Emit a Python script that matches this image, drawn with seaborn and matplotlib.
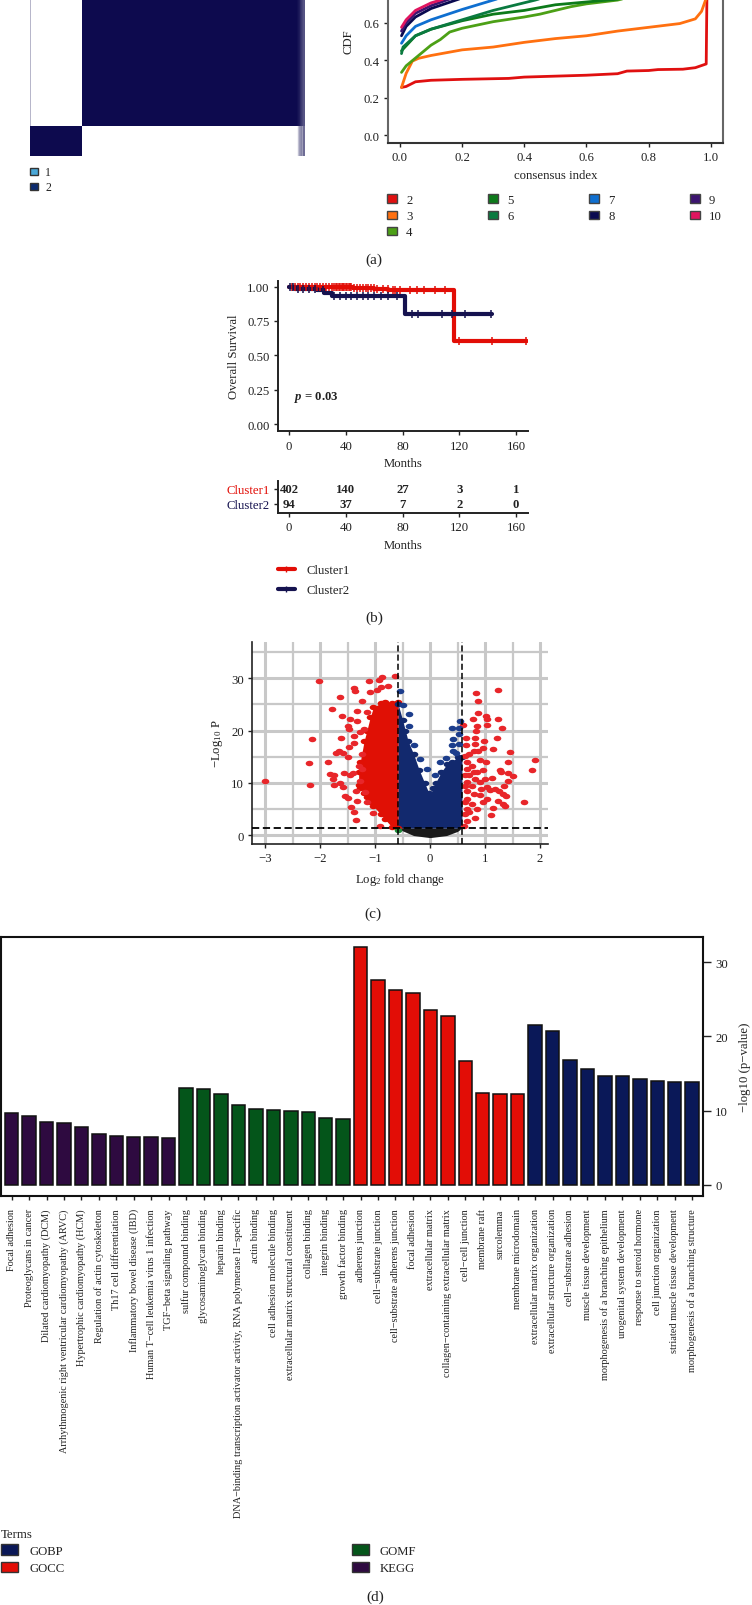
import numpy as np
import pandas as pd
import matplotlib
matplotlib.use("Agg")
import matplotlib.pyplot as plt
from matplotlib.lines import Line2D
from matplotlib.patches import Patch
from matplotlib.path import Path
from matplotlib.transforms import Affine2D
import seaborn as sns

# ---- panel a: consensus matrix
cluster_sizes = [94, 402]
strip_top = [.98, .95, .95, .9, .92, .85, .9, .8, .85, .75, .8, .7, .75, .7]
strip_bottom = [.05, .15, .25, .3, .4, .45, .35, .5, .55, .4, .5, .6, .55, .6]

# ---- panel a: CDF curves, k -> (consensus index, CDF)
cdf_curves = {
    "2": ([.005, .02, .05, .1, .2, .35, .4, .6, .7, .73, .8, .83, .91, .95, .985, .987, .99],
          [.255, .26, .285, .293, .298, .303, .31, .32, .328, .342, .345, .35, .352, .36, .38, .7, 1]),
    "3": ([.005, .02, .04, .06, .1, .2, .3, .4, .5, .6, .7, .8, .9, .95, .97, .985, .99],
          [.255, .33, .395, .41, .425, .455, .47, .495, .515, .53, .555, .575, .595, .62, .66, .73, 1]),
    "4": ([.005, .02, .06, .1, .13, .16, .2, .3, .4, .45, .55, .6, .7, .8, .9, .99],
          [.335, .37, .425, .48, .51, .55, .57, .605, .63, .645, .685, .7, .72, .76, .82, 1]),
    "5": ([.005, .05, .1, .2, .3, .4, .5, .6, .7, .8, .9, .99],
          [.45, .53, .565, .61, .645, .665, .695, .71, .725, .77, .84, 1]),
    "6": ([.005, .01, .05, .1, .2, .3, .435, .6, .8, .99],
          [.435, .47, .53, .565, .615, .665, .72, .8, .9, 1]),
    "7": ([.005, .02, .05, .1, .2, .3, .5, .8, .99],
          [.49, .53, .58, .615, .67, .72, .82, .93, 1]),
    "8": ([.005, .02, .05, .1, .18, .4, .8, .99],
          [.53, .58, .63, .675, .72, .84, .95, 1]),
    "9": ([.005, .02, .05, .1, .15, .4, .8, .99],
          [.555, .6, .65, .69, .72, .86, .96, 1]),
    "10": ([.005, .02, .05, .1, .13, .4, .8, .99],
           [.575, .615, .665, .705, .72, .88, .97, 1]),
}
cdf_colors = ["#e01010", "#ff7010", "#4ca016", "#0d7a1a", "#0a7a40",
              "#0f6fd0", "#0a0a50", "#3c1470", "#e0155f"]

# ---- panel b: survival
surv1_months = [0, 45, 45, 60, 60, 70, 70, 116, 116, 168]
surv1_prob = [1, 1, .99, .99, .98, .98, .972, .972, .603, .603]
surv2_months = [0, 4, 4, 20, 20, 25, 25, 30, 30, 82, 82, 143]
surv2_prob = [1, 1, .985, .985, .975, .975, .955, .955, .93, .93, .8, .8]
cens1_months = [2, 4, 6, 8, 10, 12, 14, 16, 18, 20, 22, 24, 26, 28, 30, 32, 33, 34, 35, 36, 37,
                38, 39, 40, 41, 42, 43, 44, 46, 48, 50, 52, 54, 56, 58, 60,
                62, 66, 70, 73, 75, 78, 85, 90, 95, 103, 110, 120, 143, 167]
cens1_prob = [1] * 28 + [.99] * 8 + [.98] * 3 + [.972] * 8 + [.603] * 3
cens2_months = [1, 3, 6, 10, 14, 18, 24, 32, 36, 40, 44, 48, 52, 56, 60, 65, 70, 76, 87, 91,
                108, 115, 124, 142]
cens2_prob = [1, 1, .985, .985, .985, .985, .975, .93, .93, .93, .93, .93, .93, .93, .93, .93, .93,
              .93, .8, .8, .8, .8, .8, .8]
risk_ticks = [0, 40, 80, 120, 160]
risk_cluster1 = [402, 140, 27, 3, 1]
risk_cluster2 = [94, 37, 7, 2, 0]

# ---- panel c: volcano
red_dense_x = [-.58, -.7, -.82, -.9, -1.03, -1.09, -1.15, -1.2, -1.27, -1.3]
red_dense_hi = [25.5, 25.3, 25.4, 25.2, 24.5, 22.5, 20, 18, 14, 12]
red_dense_lo = [1.3, 1.6, 3, 4, 5.5, 6.3, 7.2, 8, 9, 9.5]
blue_dense_x = [-.58, -.5, -.45, -.4, -.3, -.2, -.1, -.02, 0, .05, .1, .2, .3, .4, .5, .58]
blue_dense_hi = [25, 22, 20, 18, 15.5, 12.5, 10, 8, 7.5, 9, 10, 12, 13.5, 14, 15, 15]
black_dense_x = [-.55, -.5, -.3, 0, .3, .5, .55]
black_dense_hi = [1.3, 1.3, 1.3, 1.3, 1.3, 1.3, 1.3]
black_dense_lo = [1.1, .8, -.1, -.5, -.1, .7, 1.1]
red_x = [-3.01, -2.02, -2.15, -2.21, -2.18, -1.85, -1.78, -1.64, -1.6, -1.62, -1.39, -1.37,
         -1.24, -1.12, -1.1, -.93, -.88, -.64, -.97, -.9, -.76, -1.82, -1.75, -1.77, -1.75,
         -1.64, -1.59, -1.56, -1.41, -1.45, -1.55, -1.5, -1.43, -1.39, -1.35, -1.33, -1.35,
         -1.71, -1.65, -1.59, -1.5, -1.47, -1.5, -1.45, -1.33, -1.33, -1.47, -1.39, -1.38,
         -1.3, -1.24, -1.27, -1.18, -1.15, -1.03, -.91, -1.21, -1.15, -1.24, -1.27,
         1.24, .83, .87, .88, .78, 1.01, 1.04, 1.24, 1.3, .85, .84, 1.04, .6, .65, .65, .82,
         .82, .99, 1.22, 1.15, .96, .88, .79, 1.45, 1.91, 1.85, 1.41, 1.27, 1.29, 1.42, 1.5,
         1.41, 1.35, 1.26, 1.33, 1.39, 1.24, 1.33, 1.37, 1.71, 1.15, 1.11, 1.12, 1.03, 1.09,
         1.18, 1.01, .9, .97, 1, .9, 1.03, .97, .85, .82, .7, .67, .62, .67, .76, .67, .79,
         .7, .82, .67, .76, .67, .79, .67, .76, .67, .64, .64, .7, .64, .64, .64, .85, .91, .92]
red_y = [10.3, 29.4, 18.4, 13.7, 9.6, 14, 24.1, 26.5, 22.8, 18.6, 28.2, 27.6, 25.7, 29.5, 27.3,
         29.7, 30.2, 30.4, 27.8, 28.3, 28.5, 11.7, 11.5, 10.8, 9.5, 10, 9.2, 11.9, 11.9, 11.5,
         7.5, 7.1, 5.4, 4.4, 2.9, 6.5, 8.5, 15.7, 16.1, 15.7, 14.9, 16.8, 20.9, 22.3, 23.8,
         21.9, 20.3, 19, 17.7, 13.3, 12.6, 10.4, 8.2, 6.3, 4.3, 1.8, 20.3, 23.5, 15.5, 19.7,
         27.8, 27.2, 25.7, 23.4, 22.2, 22.7, 22.2, 22.3, 20.4, 20.8, 19.9, 21, 21.1, 18.5, 17.2,
         18.6, 17.4, 17.9, 18.5, 16.4, 16.6, 16.1, 16, 15.8, 14.4, 12.4, 13.9, 12.5, 12.1, 11.9,
         11.3, 10.3, 9.4, 8.4, 7.8, 7.5, 6.5, 5.9, 5.5, 6.3, 5.2, 3.9, 11, 9.1, 8.6, 8.9, 13.9,
         14.4, 12.5, 10.7, 7.7, 6.8, 6.4, 5, 3.3, 4.5, 2.7, 1.8, 13.9, 13.3, 12.6, 12, 11.4,
         10.7, 10.1, 9.4, 8.5, 7.8, 6.9, 5.9, 5, 4, 15.2, 15.5, 6.3, 11.4, 9.4, 12, 10.1, 8.8]
blue_x = [-.55, -.5, -.39, -.38, -.29, -.18, -.06, .09, .18, .29, .39, .55, .53, .52, .42, .39,
          .53, .48, .41]
blue_y = [27.6, 24.9, 23.2, 20.9, 17.2, 14.5, 12.6, 11.5, 13.9, 14.7, 20.5, 21.9, 20.4, 19.3,
          18.4, 17.3, 17.4, 15.7, 16]
green_x = [-.59]
green_y = [1.0]

# ---- panel d: enrichment bars
kegg_terms = ["Focal adhesion", "Proteoglycans in cancer", "Dilated cardiomyopathy (DCM)",
              "Arrhythmogenic right ventricular cardiomyopathy (ARVC)",
              "Hypertrophic cardiomyopathy (HCM)", "Regulation of actin cytoskeleton",
              "Th17 cell differentiation", "Inflammatory bowel disease (IBD)",
              "Human T−cell leukemia virus 1 infection", "TGF−beta signaling pathway"]
kegg_vals = [9.7, 9.2, 8.4, 8.3, 7.8, 6.8, 6.6, 6.5, 6.4, 6.25]
gomf_terms = ["sulfur compound binding", "glycosaminoglycan binding", "heparin binding",
              "DNA−binding transcription activator activity, RNA polymerase II−specific",
              "actin binding", "cell adhesion molecule binding",
              "extracellular matrix structural constituent", "collagen binding",
              "integrin binding", "growth factor binding"]
gomf_vals = [13.1, 12.9, 12.2, 10.7, 10.2, 10.1, 9.9, 9.8, 9.05, 8.8]
gocc_terms = ["adherens junction", "cell−substrate junction", "cell−substrate adherens junction",
              "focal adhesion", "extracellular matrix", "collagen−containing extracellular matrix",
              "cell−cell junction", "membrane raft", "sarcolemma", "membrane microdomain"]
gocc_vals = [32, 27.6, 26.3, 25.8, 23.6, 22.7, 16.7, 12.3, 12.25, 12.2]
gobp_terms = ["extracellular matrix organization", "extracellular structure organization",
              "cell−substrate adhesion", "muscle tissue development",
              "morphogenesis of a branching epithelium", "urogenital system development",
              "response to steroid hormone", "cell junction organization",
              "striated muscle tissue development", "morphogenesis of a branching structure"]
gobp_vals = [21.5, 20.7, 16.85, 15.6, 14.6, 14.6, 14.3, 14.05, 13.85, 13.8]
term_colors = {"GOBP": "#0a1858", "GOCC": "#e20d06", "GOMF": "#04551a", "KEGG": "#2e0a40"}

sns.set_theme(style="white")
plt.rcParams["font.family"] = ["Liberation Serif", "DejaVu Sans"]
plt.rcParams["mathtext.fontset"] = "custom"
plt.rcParams["mathtext.rm"] = "Liberation Serif"
plt.rcParams["mathtext.it"] = "Liberation Serif:italic"
plt.rcParams["mathtext.bf"] = "Liberation Serif:bold"
plt.rcParams["mathtext.bfit"] = "Liberation Serif:italic:bold"
plt.rcParams["text.color"] = "#222222"
plt.rcParams["axes.labelcolor"] = "#222222"
plt.rcParams["xtick.color"] = "#222222"
plt.rcParams["ytick.color"] = "#222222"

W, H = 752, 1606
FS = 9.2
fig = plt.figure(figsize=(W / 100, H / 100), dpi=100)


def px_axes(x0, y0, x1, y1):
    # pixel box, y counted from the top of the picture
    return fig.add_axes([x0 / W, 1 - y1 / H, (x1 - x0) / W, (y1 - y0) / H])


def fx(x):
    return x / W


def fy(y):
    return 1 - y / H


def caption(x, y, s):
    fig.text(fx(x), fy(y), s, ha="center", va="center", fontsize=11)


def style_ticks(ax, size=FS):
    ax.tick_params(axis="both", labelsize=size, length=3, width=1, pad=3, bottom=True, left=True)


# panel a, heatmap
n1, n2 = cluster_sizes
mat = np.block([[np.zeros((n2, n1)), np.ones((n2, n2))],
                [np.ones((n1, n1)), np.zeros((n1, n2))]])
mat[:n2, -len(strip_top):] = strip_top
mat[n2:, -len(strip_bottom):] = strip_bottom
mat[:n2, 0] = .3
mat[-1, n1:] = .2
ax = px_axes(30, -5, 305, 157.3)
sns.heatmap(mat, ax=ax, cbar=False, vmin=0, vmax=1, xticklabels=False, yticklabels=False,
            cmap=sns.blend_palette(["#ffffff", "#0d0a4e"], as_cmap=True), rasterized=True)
fig.legend(handles=[Patch(fc="#4aa8d8", ec="#333333", label="1"),
                    Patch(fc="#0b2a6e", ec="#333333", label="2")],
           loc="upper left", bbox_to_anchor=(fx(30), fy(167.5)), frameon=False, fontsize=8.5,
           borderpad=0, borderaxespad=0, handlelength=.7, handleheight=.5,
           handletextpad=.6, labelspacing=.25)

# panel a, CDF (the top of this axes runs off the page, as in the original crop)
ax = px_axes(387.5, -59, 723, 144)
for (k, (cx, cy)), col in zip(cdf_curves.items(), cdf_colors):
    sns.lineplot(x=cx, y=cy, ax=ax, color=col, lw=2, estimator=None, sort=False,
                 legend=False)
ax.set_xlim(-.04, 1.039)
ax.set_ylim(-.041, 1.04)
ax.set_xticks([0, .2, .4, .6, .8, 1])
ax.set_yticks([0, .2, .4, .6])
style_ticks(ax)
ax.set_xlabel("consensus index", fontsize=FS, labelpad=4)
ax.set_ylabel("")
fig.text(fx(348), fy(42), "CDF", rotation=90, ha="center", va="center", fontsize=FS)
for side in ax.spines:
    ax.spines[side].set_color("#666666")
    ax.spines[side].set_linewidth(1.5)
ax.spines["bottom"].set_color("#333333")
handles = [Patch(fc=c, ec="#444444", label=k) for k, c in zip(cdf_curves, cdf_colors)]
fig.legend(handles=handles, ncol=4, loc="upper left", bbox_to_anchor=(fx(387), fy(195)),
           frameon=False, fontsize=FS, borderpad=0, borderaxespad=0, handlelength=.75,
           handleheight=.6, handletextpad=.75, labelspacing=.33, columnspacing=5.9)
caption(374, 260, "(a)")

# panel b, survival
ax = px_axes(278, 281.7, 527.7, 432.3)
sns.lineplot(x=surv1_months, y=surv1_prob, ax=ax, color="#e20d06", lw=3, estimator=None,
             sort=False, legend=False)
sns.scatterplot(x=cens1_months, y=cens1_prob, ax=ax, color="#e20d06", marker="|", s=30,
                linewidth=1.1, legend=False, zorder=3)
sns.lineplot(x=surv2_months, y=surv2_prob, ax=ax, color="#15124f", lw=3, estimator=None,
             sort=False, legend=False)
sns.scatterplot(x=cens2_months, y=cens2_prob, ax=ax, color="#15124f", marker="|", s=30,
                linewidth=1.1, legend=False, zorder=3)
ax.set_xlim(-7.75, 168.2)
ax.set_ylim(-.053, 1.043)
ax.set_xticks(risk_ticks)
ax.set_yticks([0, .25, .5, .75, 1])
ax.set_yticklabels(["0.00", "0.25", "0.50", "0.75", "1.00"])
style_ticks(ax)
ax.set_xlabel("Months", fontsize=FS, labelpad=4)
ax.set_ylabel("Overall Survival", fontsize=FS, labelpad=5)
ax.text(3.5, .2, r"$\mathbfit{p}$ = 0.03", fontsize=FS, va="center", fontweight="bold")
sns.despine(ax=ax)
for side in ["left", "bottom"]:
    ax.spines[side].set_linewidth(1.4)
    ax.spines[side].set_color("#222222")

# panel b, numbers at risk
ax = px_axes(278, 482, 527.7, 514)
ax.set_xlim(-7.75, 168.2)
ax.set_ylim(-.6, 1.53)
for t, a, b in zip(risk_ticks, risk_cluster1, risk_cluster2):
    ax.text(t, 1, str(a), ha="center", va="center", fontsize=FS, fontweight="bold")
    ax.text(t, 0, str(b), ha="center", va="center", fontsize=FS, fontweight="bold")
ax.set_xticks(risk_ticks)
ax.set_yticks([0, 1])
ax.set_yticklabels(["Cluster2", "Cluster1"])
style_ticks(ax)
ax.get_yticklabels()[0].set_color("#15124f")
ax.get_yticklabels()[1].set_color("#e20d06")
ax.set_xlabel("Months", fontsize=FS, labelpad=4)
sns.despine(ax=ax)
for side in ["left", "bottom"]:
    ax.spines[side].set_linewidth(1.4)
    ax.spines[side].set_color("#222222")
fig.legend(handles=[Line2D([], [], color="#e20d06", lw=3, marker="|", ms=5, label="Cluster1"),
                    Line2D([], [], color="#15124f", lw=3, marker="|", ms=5, label="Cluster2")],
           loc="upper left", bbox_to_anchor=(fx(277.5), fy(565.5)), frameon=False, fontsize=FS,
           borderpad=0, borderaxespad=0, handlelength=1.4, handletextpad=.85, labelspacing=.6)
caption(374, 618, "(b)")

# panel c, volcano
ax = px_axes(252, 642.7, 547.7, 845)
ax.set_xlim(-3.24, 2.14)
ax.set_ylim(-1.72, 37)
ax.set_axisbelow(True)
ax.set_xticks([-3, -2, -1, 0, 1, 2])
ax.set_yticks([0, 10, 20, 30])
ax.set_xticks([-2.5, -1.5, -.5, .5, 1.5], minor=True)
ax.set_yticks([5, 15, 25, 35], minor=True)
ax.grid(True, which="major", color="#c8c8c8", lw=2.2)
ax.grid(True, which="minor", color="#c8c8c8", lw=1.6)
ax.fill_between(red_dense_x, red_dense_lo, red_dense_hi, color="#e01005", lw=0, zorder=2)
ax.fill_between(blue_dense_x, [1.3] * len(blue_dense_x), blue_dense_hi, color="#12296e",
                lw=0, zorder=2)
ax.fill_between(black_dense_x, black_dense_lo, black_dense_hi, color="#1a1a1a", lw=0, zorder=2)
# points in the original are flattened ellipses
oval = Path.unit_circle().transformed(Affine2D().scale(1, .72))
pt = dict(ax=ax, s=30, marker=oval, linewidth=0, legend=False, zorder=3)
sns.scatterplot(x=red_dense_x, y=red_dense_hi, color="#e01005", **pt)
sns.scatterplot(x=red_dense_x, y=red_dense_lo, color="#e01005", **pt)
sns.scatterplot(x=blue_dense_x, y=blue_dense_hi, color="#12296e", **pt)
sns.scatterplot(x=red_x, y=red_y, color="#e8262a", **pt)
sns.scatterplot(x=blue_x, y=blue_y, color="#1c3d8c", **pt)
sns.scatterplot(x=green_x, y=green_y, color="#1f8a3a", **pt)
for v in [-.58, .585]:
    ax.axvline(v, color="black", lw=1.1, ls=(0, (4, 2)), zorder=4)
ax.axhline(1.3, color="black", lw=1.3, ls=(0, (4, 2)), zorder=4)
ax.tick_params(axis="both", which="major", labelsize=FS, length=3, width=1, pad=3,
               bottom=True, left=True)
ax.tick_params(axis="both", which="minor", length=0)
ax.set_xlabel(r"$\mathrm{Log}_{2}$ fold change", fontsize=FS, labelpad=5)
ax.set_ylabel(r"$-\mathrm{Log}_{10}$ P", fontsize=FS, labelpad=4)
sns.despine(ax=ax)
for side in ["left", "bottom"]:
    ax.spines[side].set_linewidth(1.2)
    ax.spines[side].set_color("#222222")
caption(373, 914, "(c)")

# panel d, bars
bars = pd.DataFrame({
    "term": kegg_terms + gomf_terms + gocc_terms + gobp_terms,
    "value": kegg_vals + gomf_vals + gocc_vals + gobp_vals,
    "group": ["KEGG"] * 10 + ["GOMF"] * 10 + ["GOCC"] * 10 + ["GOBP"] * 10,
})
ax = px_axes(0.8, 938, 702.6, 1196.7)
sns.barplot(data=bars, x="term", y="value", hue="group", palette=term_colors, dodge=False,
            width=.77, edgecolor="#111111", linewidth=1.1, saturation=1, legend=False, ax=ax)
ax.set_xlim(-.62, 39.6)
ax.set_ylim(-1.48, 33.4)
ax.yaxis.tick_right()
ax.yaxis.set_label_position("right")
ax.set_yticks([0, 10, 20, 30])
ax.tick_params(axis="y", labelsize=FS, length=5.5, width=1, pad=3.5, right=True, left=False)
ax.tick_params(axis="x", labelsize=7.4, length=3, width=1, pad=6, bottom=True, labelrotation=90)
ax.set_xlabel("")
ax.set_ylabel("−log10 (p−value)", fontsize=FS, labelpad=8)
for side in ax.spines:
    ax.spines[side].set_visible(True)
    ax.spines[side].set_linewidth(1.5)
    ax.spines[side].set_color("#111111")
leg = fig.legend(handles=[Patch(fc=term_colors[g], ec="#333333", label=g) for g in term_colors],
                 title="Terms", ncol=2, loc="upper left", bbox_to_anchor=(fx(1), fy(1529)),
                 frameon=False, fontsize=FS, title_fontsize=FS, borderpad=0, borderaxespad=0,
                 handlelength=1.35, handleheight=.9, handletextpad=.85, labelspacing=.35,
                 columnspacing=22.5)
leg._legend_box.align = "left"
caption(375, 1597, "(d)")

fig.savefig("out.png", dpi=100)
